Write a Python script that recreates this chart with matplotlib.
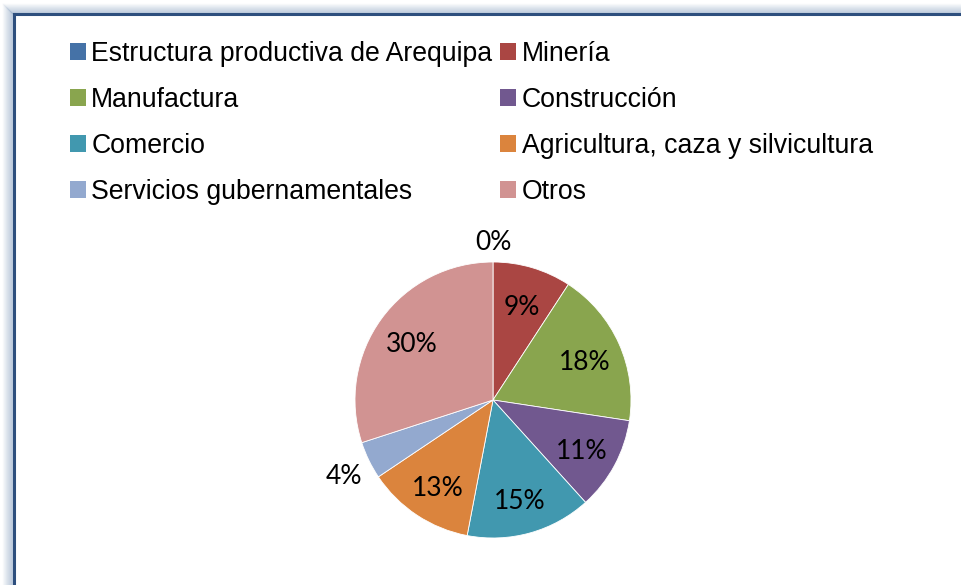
import matplotlib
matplotlib.use("Agg")
import matplotlib.pyplot as plt
from matplotlib.patches import Patch
from matplotlib.lines import Line2D
import numpy as np

categories = ["Estructura productiva de Arequipa", "Minería", "Manufactura", "Construcción",
              "Comercio", "Agricultura, caza y silvicultura", "Servicios gubernamentales", "Otros"]
values = [0.0, 9.2, 18.2, 10.9, 14.7, 12.6, 4.4, 30.0]
colors = ["#4572A7", "#AA4643", "#89A54E", "#71588F", "#4198AF", "#DB843D", "#93A9CF", "#D19392"]
outside_factor = {0: 1.17, 6: 1.2}

W, H = 961, 585
fig = plt.figure(figsize=(W / 100, H / 100), dpi=100)
fig.patch.set_facecolor("white")

# frame with soft shadow
for i in range(10):
    a = 0.05 + 0.05 * i
    x = 3 + i
    fig.add_artist(Line2D([x / W, x / W], [0, 1 - (4 + i) / H], transform=fig.transFigure,
                          color="#8EA6C4", alpha=a, lw=1.0))
    fig.add_artist(Line2D([x / W, 1], [1 - (4 + i) / H, 1 - (4 + i) / H], transform=fig.transFigure,
                          color="#8EA6C4", alpha=a, lw=1.0))
fig.add_artist(Line2D([13.5 / W, 13.5 / W], [0, 1 - 14 / H], transform=fig.transFigure,
                      color="#2E4F7E", lw=2.2))
fig.add_artist(Line2D([13.5 / W, 1], [1 - 14 / H, 1 - 14 / H], transform=fig.transFigure,
                      color="#2E4F7E", lw=2.2))

# pie axes: centre (493, 400) px, radius 138 px
cx, cy, R, half = 493, 400, 138, 180
ax = fig.add_axes([(cx - half) / W, (H - cy - half) / H, 2 * half / W, 2 * half / H])

wedges, texts, autotexts = ax.pie(values, colors=colors, startangle=90, counterclock=False,
                                  radius=1.0, autopct=lambda p: f"{p:.0f}%", pctdistance=0.73,
                                  wedgeprops=dict(edgecolor="white", linewidth=0.6),
                                  textprops=dict(fontsize=19, family="Lato", color="#000000"))
ax.set_xlim(-half / R, half / R)
ax.set_ylim(-half / R, half / R)
ax.set_aspect("equal")
ax.axis("off")
dy = -4 / R
for i, t in enumerate(autotexts):
    x, y = t.get_position()
    if i in outside_factor:
        n = np.hypot(x, y)
        f = outside_factor[i]
        if n < 1e-9:
            x, y = 0, f
        else:
            x, y = x / n * f, y / n * f
    t.set_position((x, y + dy))

order = [0, 2, 4, 6, 1, 3, 5, 7]
handles = [Patch(facecolor=colors[i], edgecolor="none") for i in order]
labels = [categories[i] for i in order]
fig.legend(handles, labels, ncol=2, loc="upper left", bbox_to_anchor=(70 / W, 1 - 41 / H),
           frameon=False, prop=dict(family="Liberation Sans", size=19.2),
           handlelength=0.6, handleheight=0.6, handletextpad=0.2, columnspacing=0.3,
           labelspacing=0.75, borderpad=0, borderaxespad=0)

fig.savefig("out.png", dpi=100)
